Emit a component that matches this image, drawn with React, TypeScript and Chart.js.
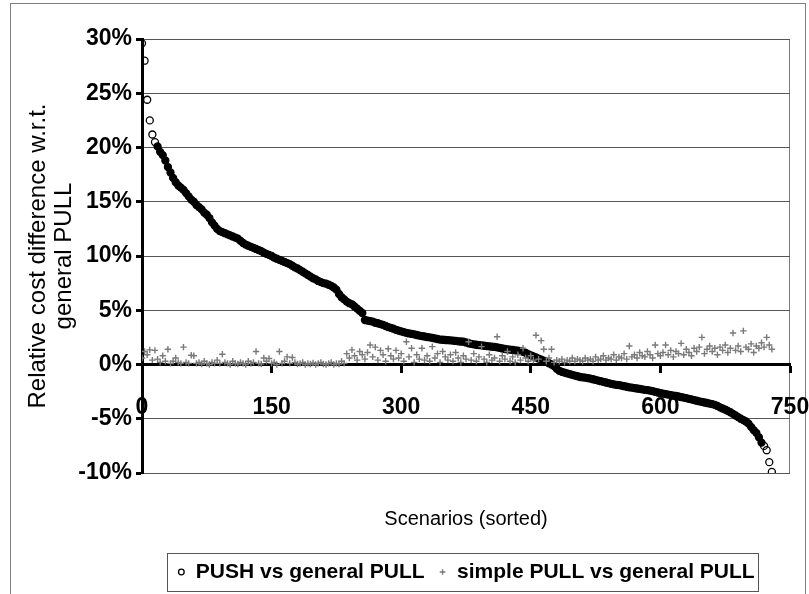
import React, { useEffect, useRef } from 'react';
import { Chart, registerables } from 'chart.js';

Chart.register(...registerables);

const FONT = "'Liberation Sans', Arial, Helvetica, sans-serif";

// Scenario spacing of the sampled points (scenarios are sorted by PUSH result)
const scenarioStep = 3;

// PUSH vs general PULL (%), sampled every 3 scenarios from 0 to 729
const pushValues: number[] = [
  29.6, 28.0, 24.4, 22.5, 21.2, 20.5, 20.1, 19.6, 19.3, 18.8,
  18.2, 17.7, 17.2, 16.8, 16.5, 16.3, 16.1, 15.8, 15.5, 15.2,
  15.0, 14.7, 14.5, 14.3, 14.0, 13.8, 13.5, 13.1, 12.8, 12.5,
  12.3, 12.2, 12.1, 12.0, 11.9, 11.8, 11.7, 11.6, 11.4, 11.2,
  11.05, 10.95, 10.85, 10.75, 10.65, 10.55, 10.45, 10.3, 10.2, 10.1,
  10.0, 9.85, 9.75, 9.65, 9.55, 9.45, 9.35, 9.25, 9.1, 8.95,
  8.85, 8.7, 8.55, 8.4, 8.25, 8.1, 7.95, 7.85, 7.7, 7.6,
  7.5, 7.45, 7.35, 7.25, 7.1, 6.9, 6.5, 6.2, 6.0, 5.8,
  5.65, 5.55, 5.35, 5.15, 4.95, 4.75, 4.1, 4.05, 4.0, 3.95,
  3.85, 3.8, 3.72, 3.65, 3.55, 3.45, 3.38, 3.3, 3.2, 3.12,
  3.05, 2.98, 2.92, 2.86, 2.82, 2.78, 2.72, 2.67, 2.62, 2.58,
  2.53, 2.5, 2.45, 2.4, 2.35, 2.3, 2.28, 2.26, 2.24, 2.22,
  2.2, 2.17, 2.14, 2.12, 2.1, 2.03, 1.96, 1.9, 1.85, 1.82,
  1.79, 1.76, 1.73, 1.7, 1.67, 1.64, 1.62, 1.58, 1.53, 1.48,
  1.43, 1.4, 1.37, 1.34, 1.3, 1.27, 1.23, 1.18, 1.08, 0.95,
  0.85, 0.75, 0.65, 0.55, 0.45, 0.35, 0.26, 0.12, 0.0, -0.15,
  -0.4, -0.58, -0.68, -0.75, -0.82, -0.88, -0.95, -1.02, -1.08, -1.15,
  -1.18, -1.21, -1.25, -1.3, -1.36, -1.42, -1.48, -1.54, -1.6, -1.66,
  -1.72, -1.78, -1.83, -1.87, -1.9, -1.95, -2.0, -2.05, -2.1, -2.13,
  -2.17, -2.21, -2.25, -2.29, -2.33, -2.36, -2.4, -2.45, -2.52, -2.58,
  -2.63, -2.68, -2.73, -2.78, -2.82, -2.86, -2.9, -2.95, -3.0, -3.05,
  -3.1, -3.16, -3.22, -3.28, -3.34, -3.4, -3.45, -3.5, -3.55, -3.6,
  -3.65, -3.72, -3.82, -3.95, -4.05, -4.15, -4.28, -4.4, -4.55, -4.7,
  -4.85, -5.0, -5.12, -5.25, -5.45, -5.75, -6.05, -6.3, -6.7, -7.2,
  -7.5, -7.9, -9.0, -9.9,
];

// simple PULL vs general PULL (%), same scenarios
const pullValues: number[] = [
  0.6, 1.2, 0.9, 1.35, 0.4, 1.3, 0.5, 0.2, 0.8, 0.3,
  1.4, 0.1, 0.3, 0.6, 0.2, 0.1, 1.6, 0.2, 0.1, 0.85,
  0.8, 0.1, 0.2, 0.05, 0.3, 0.1, 0.0, 0.2, 0.1, 0.4,
  0.1, 0.95, 0.2, 0.1, 0.0, 0.3, 0.1, 0.05, 0.2, 0.1,
  0.0, 0.3, 0.1, 0.2, 1.2, 0.1, 0.05, 0.6, 0.3, 0.55,
  0.1, 0.2, 0.0, 1.2, 0.1, 0.3, 0.7, 0.1, 0.65, 0.2,
  0.05, 0.1, 0.2, 0.0, 0.1, 0.05, 0.15, 0.0, 0.1, 0.2,
  0.05, 0.0, 0.1, 0.2, 0.0, 0.1, 0.05, 0.3, 0.1, 1.0,
  0.6, 1.35, 0.8, 0.4, 1.2, 0.9, 0.5, 1.1, 1.8, 0.7,
  1.6, 0.4, 1.3, 0.9, 0.3, 1.45, 0.8, 0.5, 1.3, 0.6,
  1.0, 0.3, 2.1, 0.7, 1.5, 0.2, 0.9, 0.5, 1.5, 0.4,
  0.8, 0.3, 1.65, 0.6, 1.0, 0.2, 1.2, 0.7, 0.4, 0.9,
  0.3, 1.1, 0.6, 0.2, 0.8, 0.5, 2.1, 0.4, 1.0, 0.3,
  0.7, 1.65, 0.5, 0.2, 0.9, 0.4, 0.6, 2.56, 0.3, 0.8,
  0.5, 1.2, 0.3, 0.7, 0.2, 0.9, 0.4, 1.5, 0.6, 0.3,
  0.8, 0.4, 2.7, 0.5, 2.2, 1.4, 0.3, 0.6, 1.4, 0.2,
  0.4, 0.3, 0.5, 0.2, 0.4, 0.3, 0.6, 0.3, 0.5, 0.4,
  0.3, 0.6, 0.4, 0.5, 0.3, 0.7, 0.4, 0.5, 0.8, 0.4,
  0.6, 0.5, 0.9, 0.4, 0.7, 0.6, 1.0, 0.5, 1.7, 0.7,
  0.9, 0.6, 1.1, 0.8, 0.7, 1.2, 0.9, 0.6, 1.8, 1.0,
  0.8, 1.1, 1.8, 0.9, 1.3, 0.7, 1.2, 1.0, 1.95, 0.9,
  1.4, 1.1, 0.8, 1.5, 1.2, 1.6, 2.5, 1.0, 1.4, 1.7,
  1.2, 1.5, 0.9, 1.6, 1.3, 1.8, 1.1, 1.5, 2.9, 1.3,
  1.7, 1.2, 3.1, 1.6, 1.4, 1.9, 1.1, 1.7, 1.5, 2.0,
  1.6, 2.5, 1.8, 1.4,
];

const scenarios: number[] = pushValues.map((_, i) => i * scenarioStep);

const xTickValues = [0, 150, 300, 450, 600, 750];
const yTickValues = [-10, -5, 0, 5, 10, 15, 20, 25, 30];

const seriesLabels = ['PUSH vs general PULL', 'simple PULL vs general PULL'];
const xTitle = 'Scenarios (sorted)';
const yTitle = ['Relative cost difference w.r.t.', 'general PULL'];

const framesPlugin = {
  id: 'frames',
  beforeDraw(chart: any) {
    const { ctx, chartArea: a } = chart;
    ctx.save();
    ctx.lineWidth = 1;
    ctx.strokeStyle = '#808080';
    ctx.strokeRect(10.5, 3.5, chart.width - 14, chart.height + 20);
    ctx.strokeStyle = '#7a7a7a';
    ctx.strokeRect(Math.round(a.left) + 0.5, Math.round(a.top) + 0.5, Math.round(a.width) - 1, Math.round(a.height));
    ctx.restore();
  },
  afterDraw(chart: any) {
    const lg = chart.legend;
    if (!lg || !lg.legendHitBoxes || !lg.legendHitBoxes.length) return;
    const hb = lg.legendHitBoxes;
    let l = Infinity;
    let r = -Infinity;
    hb.forEach((h: any) => {
      l = Math.min(l, h.left);
      r = Math.max(r, h.left + h.width);
    });
    const { ctx } = chart;
    ctx.save();
    ctx.lineWidth = 1;
    ctx.strokeStyle = '#555';
    ctx.strokeRect(Math.round(l - 10) + 0.5, Math.round(lg.top + 5) + 0.5, Math.round(r - l + 14), 38);
    ctx.restore();
  },
};

export default function App() {
  const ref = useRef<HTMLCanvasElement | null>(null);

  useEffect(() => {
    if (!ref.current) return;
    const tickFont = { family: FONT, size: 23, weight: 'bold' as const };
    const n = pushValues.length;
    const chart = new Chart(ref.current, {
      type: 'scatter',
      data: {
        datasets: [
          {
            label: seriesLabels[0],
            data: scenarios.map((s, i) => ({ x: s, y: pushValues[i] })),
            pointStyle: 'circle',
            pointRadius: 3.5,
            pointBorderWidth: 1.3,
            pointBorderColor: '#000',
            pointBackgroundColor: (c: any) =>
              c.dataIndex !== undefined && c.dataIndex >= 6 && c.dataIndex < n - 4 ? '#000' : 'rgba(255,255,255,0)',
            borderColor: '#000',
            backgroundColor: 'rgba(255,255,255,0)',
            order: 2,
          },
          {
            label: seriesLabels[1],
            data: scenarios.map((s, i) => ({ x: s, y: pullValues[i] })),
            pointStyle: 'cross',
            pointRadius: 3.2,
            pointBorderWidth: 1.4,
            pointBorderColor: '#7a7a7a',
            pointBackgroundColor: '#7a7a7a',
            borderColor: '#7a7a7a',
            backgroundColor: '#7a7a7a',
            order: 1,
          },
        ],
      },
      options: {
        responsive: false,
        animation: false,
        events: [],
        layout: { padding: { left: 0, right: 19, top: 39, bottom: 1.5 } },
        scales: {
          x: {
            type: 'linear',
            position: { y: 0 } as any,
            min: xTickValues[0],
            max: xTickValues[xTickValues.length - 1],
            afterBuildTicks: (s: any) => {
              s.ticks = xTickValues.map((v) => ({ value: v }));
            },
            afterFit: (s: any) => {
              s.paddingLeft = 0;
              s.paddingRight = 0;
            },
            ticks: {
              padding: 22,
              color: '#000',
              font: tickFont,
              maxRotation: 0,
              autoSkip: false,
            },
            grid: {
              display: true,
              drawOnChartArea: false,
              drawTicks: true,
              tickLength: 7,
              tickWidth: 3,
              tickColor: '#000',
            },
            border: { display: true, color: '#000', width: 3 },
          },
          y: {
            type: 'linear',
            position: 'left',
            min: yTickValues[0],
            max: yTickValues[yTickValues.length - 1],
            afterBuildTicks: (s: any) => {
              s.ticks = yTickValues.map((v) => ({ value: v }));
            },
            afterFit: (s: any) => {
              s.width = 142;
            },
            ticks: {
              padding: 4,
              color: '#000',
              font: tickFont,
              callback: (v: any) => `${v}%`,
            },
            grid: {
              color: '#555',
              lineWidth: 1,
              tickLength: 6,
              tickWidth: 3,
              tickColor: '#000',
            },
            border: { display: true, color: '#000', width: 3 },
            title: {
              display: true,
              text: yTitle,
              color: '#000',
              font: { family: FONT, size: 24, weight: 'normal', lineHeight: 1.1 },
              padding: { top: 25, bottom: 0 },
            },
          },
        },
        plugins: {
          tooltip: { enabled: false },
          title: {
            display: true,
            text: xTitle,
            position: 'bottom',
            fullSize: false,
            weight: 500,
            align: 'center',
            color: '#000',
            font: { family: FONT, size: 20, weight: 'normal', lineHeight: 1.2 },
            padding: { top: 34, bottom: 16.5 },
          },
          legend: {
            display: true,
            position: 'bottom',
            fullSize: false,
            align: 'center',
            labels: {
              usePointStyle: true,
              boxWidth: 8,
              boxHeight: 4,
              padding: 14,
              color: '#000',
              font: { family: FONT, size: 21, weight: 'bold' },
              sort: (a: any, b: any) => a.datasetIndex - b.datasetIndex,
            },
          },
        },
      },
      plugins: [framesPlugin],
    } as any);
    return () => chart.destroy();
  }, []);

  return (
    <div style={{ position: 'absolute', left: 0, top: 0, width: 809, height: 594, background: '#fff' }}>
      <canvas ref={ref} width={809} height={594} style={{ display: 'block' }} />
    </div>
  );
}
